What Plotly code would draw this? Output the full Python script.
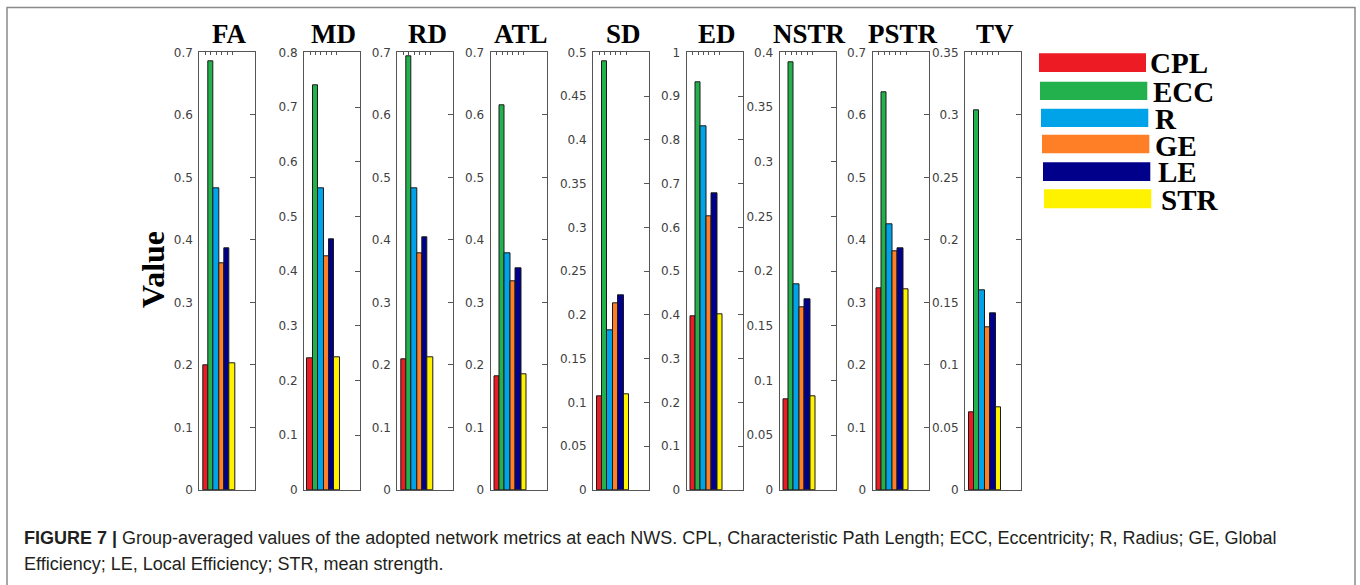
import plotly.graph_objects as go

# ---------------- data ----------------
metrics = ["FA", "MD", "RD", "ATL", "SD", "ED", "NSTR", "PSTR", "TV"]
series = ["CPL", "ECC", "R", "GE", "LE", "STR"]
bar_pos = [1, 2, 3, 4, 5, 6]

FA = [0.200, 0.686, 0.483, 0.362, 0.387, 0.202]
MD = [0.240, 0.739, 0.552, 0.427, 0.459, 0.243]
RD = [0.209, 0.694, 0.483, 0.379, 0.404, 0.212]
ATL = [0.182, 0.615, 0.379, 0.333, 0.355, 0.185]
SD = [0.107, 0.490, 0.182, 0.213, 0.222, 0.109]
ED = [0.397, 0.931, 0.832, 0.625, 0.678, 0.401]
NSTR = [0.083, 0.391, 0.188, 0.167, 0.174, 0.086]
PSTR = [0.323, 0.636, 0.425, 0.381, 0.386, 0.321]
TV = [0.062, 0.304, 0.160, 0.130, 0.141, 0.066]
values = [FA, MD, RD, ATL, SD, ED, NSTR, PSTR, TV]

y_max = [0.7, 0.8, 0.7, 0.7, 0.5, 1.0, 0.4, 0.7, 0.35]
y_step = [0.1, 0.1, 0.1, 0.1, 0.05, 0.1, 0.05, 0.1, 0.05]

colors = ["#ED1C24", "#22B14C", "#00A2E8", "#FF7F27", "#00008B", "#FFF200"]

caption_bold = "FIGURE 7 |"
caption_1 = (" Group-averaged values of the adopted network metrics at each NWS. CPL, "
             "Characteristic Path Length; ECC, Eccentricity; R, Radius; GE, Global")
caption_2 = "Efficiency; LE, Local Efficiency; STR, mean strength."

# ---------------- layout constants ----------------
W, H = 1360, 585
# the captured picture places the page 7px down and 571/585 high
V_OFF, V_SCALE = 7.0, 571.0 / 585.0
panel_px = [(199.3, 255.0), (304.0, 359.5), (397.3, 453.0), (490.5, 546.5),
            (593.0, 649.0), (686.5, 742.5), (779.5, 835.5), (872.5, 929.0),
            (965.0, 1021.0)]
top_px, bot_px = 52.3, 490.0
x_range = [-0.15, 10.2]
N = len(metrics)

def px(x):
    return x / W

def py(y):
    p = (y - V_OFF) / V_SCALE
    return 1 - p / H

fig = go.Figure()
layout = dict(
    width=W, height=H, margin=dict(l=0, r=0, t=0, b=0),
    paper_bgcolor="white", plot_bgcolor="white", showlegend=False,
    bargap=0,
)

axis_col = "#555555"
tick_font = dict(family="DejaVu Sans", size=12, color="#404040")

for i, (name, vals) in enumerate(zip(metrics, values)):
    k = i + 1
    ko = k + N
    xs = "" if k == 1 else str(k)
    ys = xs
    xo = str(ko)
    yo = str(ko)
    l, r = panel_px[i]
    dom_x = [px(l), px(r)]
    dom_y = [py(bot_px), py(top_px)]
    n_ticks = int(round(y_max[i] / y_step[i]))
    tv = [round(j * y_step[i], 10) for j in range(n_ticks + 1)]
    tt = [f"{v:g}" for v in tv]

    fig.add_trace(go.Bar(
        x=bar_pos, y=vals, width=1,
        marker=dict(color=colors, line=dict(color="#1a1a1a", width=1)),
        xaxis="x" + xs, yaxis="y" + ys, hoverinfo="y",
    ))
    # invisible helper traces so the overlay (tick-only) axes get drawn
    fig.add_trace(go.Scatter(x=[None], y=[None], xaxis="x" + xo, yaxis="y" + ys,
                             hoverinfo="skip"))
    fig.add_trace(go.Scatter(x=[None], y=[None], xaxis="x" + xs, yaxis="y" + yo,
                             hoverinfo="skip"))

    layout["xaxis" + xs] = dict(
        domain=dom_x, range=x_range, anchor="y" + ys,
        showline=True, mirror=True, linecolor=axis_col, linewidth=1,
        ticks="", showticklabels=False, showgrid=False, zeroline=False,
        fixedrange=True,
    )
    layout["yaxis" + ys] = dict(
        domain=dom_y, range=[0, y_max[i]], anchor="x" + xs,
        showline=True, mirror=True, linecolor=axis_col, linewidth=1,
        ticks="", tickvals=tv, ticktext=tt, tickfont=tick_font,
        ticklabelstandoff=3,
        showgrid=False, zeroline=False, fixedrange=True,
    )
    layout["xaxis" + xo] = dict(
        overlaying="x" + xs, anchor="y" + ys, side="top", range=x_range,
        ticks="inside", ticklen=3, tickcolor=axis_col, tickwidth=1,
        tickvals=bar_pos, showticklabels=False, showline=False,
        showgrid=False, zeroline=False, fixedrange=True,
    )
    layout["yaxis" + yo] = dict(
        overlaying="y" + ys, anchor="x" + xs, side="right", range=[0, y_max[i]],
        ticks="inside", ticklen=5, tickcolor=axis_col, tickwidth=1,
        tickvals=tv, showticklabels=False, showline=False,
        showgrid=False, zeroline=False, fixedrange=True,
    )

fig.update_layout(**layout)

annotations = []
shapes = []

# panel titles
for i, name in enumerate(metrics):
    l, r = panel_px[i]
    annotations.append(dict(
        text=f"<b>{name}</b>", x=px((l + r) / 2 + 2), y=py(34),
        xref="paper", yref="paper", xanchor="center", yanchor="middle",
        showarrow=False,
        font=dict(family="Liberation Serif", size=27, color="black"),
    ))

# y label
annotations.append(dict(
    text="<b>Value</b>", x=px(153), y=py(270), xref="paper", yref="paper",
    xanchor="center", yanchor="middle", showarrow=False, textangle=-90,
    font=dict(family="Liberation Serif", size=32, color="black"),
))

# legend (manual, large swatches)
leg_rects = [(1039, 1146, 53.3, 72.0), (1040, 1147.3, 81.7, 100.0),
             (1041, 1148.3, 108.7, 127.0), (1042, 1149.3, 134.7, 153.3),
             (1043, 1150.3, 162.3, 181.0), (1044, 1151.3, 189.3, 208.3)]
leg_text_x = [1148, 1151, 1152.7, 1152.7, 1156, 1158.7]
leg_text_y = [63, 92, 118.5, 145.5, 171.7, 199.5]
for j, s in enumerate(series):
    x0, x1, y0, y1 = leg_rects[j]
    shapes.append(dict(type="rect", xref="paper", yref="paper",
                       x0=px(x0), x1=px(x1), y0=py(y1), y1=py(y0),
                       fillcolor=colors[j], line=dict(width=0)))
    annotations.append(dict(
        text=f"<b>{s}</b>", x=px(leg_text_x[j]), y=py(leg_text_y[j]),
        xref="paper", yref="paper", xanchor="left", yanchor="middle",
        showarrow=False,
        font=dict(family="Liberation Serif", size=29, color="black"),
    ))

# caption
cap_font = dict(family="Liberation Sans", size=18, color="#231f20")
annotations.append(dict(
    text=f"<b>{caption_bold}</b>{caption_1}", x=px(22), y=py(538),
    xref="paper", yref="paper", xanchor="left", yanchor="middle",
    showarrow=False, font=cap_font,
))
annotations.append(dict(
    text=caption_2, x=px(22), y=py(564),
    xref="paper", yref="paper", xanchor="left", yanchor="middle",
    showarrow=False, font=cap_font,
))

# outer frame
shapes.append(dict(type="rect", xref="paper", yref="paper",
                   x0=px(7), x1=px(1355), y0=-0.02, y1=1 - 0.6 / H,
                   line=dict(color="#8a8a8a", width=1.5), fillcolor="rgba(0,0,0,0)"))

fig.update_layout(annotations=annotations, shapes=shapes)
fig.write_html("out.html")
